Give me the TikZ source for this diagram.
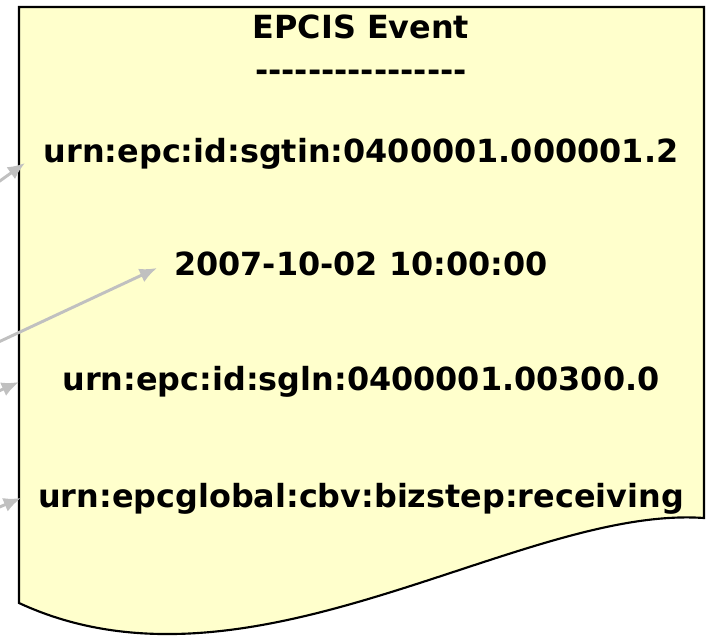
\documentclass[tikz,border=0pt]{standalone}
\usepackage{fontspec}
\setmainfont{DejaVu Sans}[Ligatures=TeXOff]
\usetikzlibrary{arrows.meta}
\definecolor{notepaper}{RGB}{255,255,204}
\definecolor{pointergray}{RGB}{192,192,192}
\begin{document}
\begin{tikzpicture}[x=0.75pt,y=-0.75pt,
    field/.style={font=\fontsize{23.9}{29}\selectfont\bfseries,anchor=base,inner sep=0pt},
    pointer/.style={-{Latex[length=13pt,width=11pt]},line width=2.2pt,draw=pointergray}]
  \useasboundingbox (0,0) rectangle (708,637);
  % event sheet with wavy lower edge
  \draw[line width=1.6pt,fill=notepaper] (19,7) -- (704,7) -- (704,518)
    .. controls (520,505) and (250,710) .. (19,603) -- cycle;

  \node[field] (title)   at (361,38)  {EPCIS Event};
  \node[field] (rule)    at (361,81)  {----------------};
  \node[field] (epc)     at (361,162) {urn:epc:id:sgtin:0400001.000001.2};
  \node[field] (time)    at (361,275) {2007-10-02 10:00:00};
  \node[field] (loc)     at (361,390) {urn:epc:id:sgln:0400001.00300.0};
  \node[field] (bizstep) at (361,507) {urn:epcglobal:cbv:bizstep:receiving};

  % pointers coming in from the left
  \coordinate (epc in)     at (-10,188);
  \coordinate (epc tip)    at (25,163);
  \coordinate (time in)    at (-10,346);
  \coordinate (time tip)   at (157,268);
  \coordinate (loc in)     at (-10,395);
  \coordinate (loc tip)    at (19,382);
  \coordinate (step in)    at (-10,511);
  \coordinate (step tip)   at (21,498);
  \draw[pointer] (epc in) -- (epc tip);
  \draw[pointer] (time in) -- (time tip);
  \draw[pointer] (loc in) -- (loc tip);
  \draw[pointer] (step in) -- (step tip);
\end{tikzpicture}
\end{document}
